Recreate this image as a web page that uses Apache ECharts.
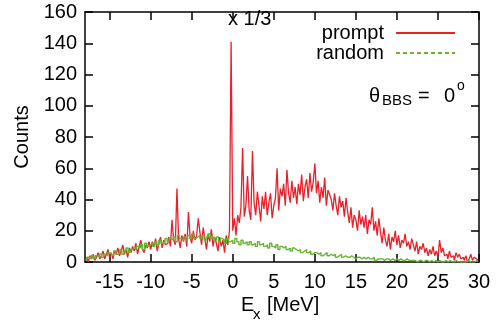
<!DOCTYPE html>
<html><head><meta charset="utf-8">
<script src="https://cdn.jsdelivr.net/npm/echarts@6/dist/echarts.min.js"></script>
<style>html,body{margin:0;padding:0;background:#fff}#c{width:504px;height:323px}</style>
</head><body><div id="c"></div>
<script>
// prompt histogram: bins of 0.2 MeV starting at -18 MeV
const promptStart = -18, promptBin = 0.2;
const promptCounts = [
  1,3,0,4,2,5,1,3,6,2,
  4,7,2,5,8,3,6,2,7,5,
  9,4,7,11,5,8,3,9,6,10,
  7,12,5,10,14,8,6,11,9,13,
  8,13,10,15,7,12,16,9,14,11,
  12,16,10,27,14,11,47,15,9,17,
  13,18,10,32,16,12,20,14,17,28,
  19,11,22,15,8,18,13,21,10,16,
  12,7,16,10,14,6,17,11,20,141,
  20,28,17,30,25,35,73,29,36,55,
  33,27,71,38,30,45,36,26,42,34,
  45,30,38,44,28,36,41,60,33,47,
  42,50,36,59,44,38,52,41,48,37,
  50,43,56,39,48,53,41,57,45,51,
  63,44,52,38,48,41,54,36,46,43,
  40,33,44,36,30,42,35,39,29,41,
  32,25,35,22,30,27,20,33,24,29,
  22,30,18,27,24,35,20,26,17,28,
  19,12,22,14,10,18,8,16,13,20,
  11,17,9,14,12,18,10,13,8,15,
  11,7,13,5,10,8,12,6,9,4,
  8,5,10,4,7,3,14,6,9,4,
  5,2,7,3,4,1,6,3,5,2,
  3,1,4,0,2,5,1,3,2,1
];
// random histogram: bins of 0.25 MeV starting at -18 MeV
const randomStart = -18, randomBin = 0.25;
const randomCounts = [
  1,3,2,4,2,4,3,5,
  3,5,4,6,5,4,7,5,
  6,8,5,7,9,6,8,9,
  8,10,9,11,8,12,10,11,
  12,10,13,11,14,12,13,15,
  13,15,14,16,13,17,15,14,
  16,14,17,15,18,15,16,17,
  15,17,14,16,18,15,16,14,
  16,13,15,14,12,15,13,14,
  12,15,13,11,14,12,13,11,
  13,11,12,10,13,11,12,10,
  11,9,12,10,9,11,8,10,
  9,10,8,9,7,9,8,7,
  8,6,7,8,6,7,5,6,
  6,5,6,4,5,6,4,5,
  4,5,3,4,5,3,4,3,
  3,4,3,2,3,3,2,3,
  2,3,2,2,3,1,2,2,
  2,1,2,2,1,2,1,2,
  1,2,1,1,2,1,1,1,
  1,0,1,1,0,1,1,0,
  1,0,1,0,1,0,0,1,
  0,1,0,0,1,0,0,0,
  0,0,1,0,0,0,1,0
];
const xTickValues = [-15,-10,-5,0,5,10,15,20,25,30];
const xMin = -18, xMax = 30;
const yMin = 0, yMax = 160, yStep = 20;

const promptData = promptCounts.map((v,i)=>[promptStart + (i+0.5)*promptBin, v]);
const randomData = randomCounts.map((v,i)=>[randomStart + (i+0.5)*randomBin, v]);

const FONT = 'Liberation Sans';
const RED = '#ea1f27', GREEN = '#66b530';
const axisLine = {show:true, onZero:false, lineStyle:{color:'#000', width:1.5}};
const tick = {show:true, inside:true, length:8, lineStyle:{color:'#000',width:1.5}};
const chart = echarts.init(document.getElementById('c'), null, {renderer:'canvas'});
chart.setOption({
  animation:false,
  backgroundColor:'#fff',
  textStyle:{fontFamily:FONT},
  grid:{left:85, right:25, top:12, bottom:61, containLabel:false},
  xAxis:[
    {type:'value', min:xMin, max:xMax, position:'bottom', axisLine:axisLine, splitLine:{show:false},
      axisTick:Object.assign({customValues:xTickValues}, tick),
      axisLabel:{color:'#000', fontSize:20, fontFamily:FONT, margin:10, customValues:xTickValues}},
    {type:'value', min:xMin, max:xMax, position:'top', axisLine:axisLine, splitLine:{show:false},
      axisTick:Object.assign({customValues:xTickValues}, tick),
      axisLabel:{show:false}}
  ],
  yAxis:[
    {type:'value', min:yMin, max:yMax, interval:yStep, position:'left', axisLine:axisLine, splitLine:{show:false},
      name:'Counts', nameLocation:'middle', nameRotate:90, nameGap:44,
      nameTextStyle:{color:'#000', fontSize:20, fontFamily:FONT},
      axisTick:tick,
      axisLabel:{color:'#000', fontSize:20, fontFamily:FONT, margin:8}},
    {type:'value', min:yMin, max:yMax, interval:yStep, position:'right', axisLine:axisLine, splitLine:{show:false},
      axisTick:tick, axisLabel:{show:false}}
  ],
  legend:{
    orient:'vertical', right:43, top:18, align:'right',
    itemWidth:59, itemHeight:14, itemGap:0,
    itemStyle:{color:'rgba(0,0,0,0)', borderColor:'rgba(0,0,0,0)', borderWidth:0, opacity:0},
    textStyle:{color:'#000', fontSize:20, fontFamily:FONT, padding:[0,7,0,0]},
    data:[
      {name:'prompt'},
      {name:'random', lineStyle:{type:[4,3]}}
    ]
  },
  series:[
    {name:'prompt', type:'line', step:'middle', data:promptData, showSymbol:false, symbol:'none',
      lineStyle:{color:RED, width:1.3}, itemStyle:{color:RED}, z:2},
    {name:'random', type:'line', step:'middle', data:randomData, showSymbol:false, symbol:'none',
      lineStyle:{color:GREEN, width:1.4}, itemStyle:{color:GREEN}, z:3}
  ],
  graphic:[
    {type:'text', x:228, y:19, style:{text:'x 1/3', fontSize:20, fontFamily:FONT, fill:'#000', verticalAlign:'middle'}},
    {type:'text', x:241, y:305, style:{text:'E', fontSize:20, fontFamily:FONT, fill:'#000', verticalAlign:'middle'}},
    {type:'text', x:253, y:315, style:{text:'x', fontSize:15, fontFamily:FONT, fill:'#000', verticalAlign:'middle'}},
    {type:'text', x:267, y:305, style:{text:'[MeV]', fontSize:20, fontFamily:FONT, fill:'#000', verticalAlign:'middle'}},
    {type:'text', x:369, y:96, style:{text:'θ', fontSize:20, fontFamily:FONT, fill:'#000', verticalAlign:'middle'}},
    {type:'text', x:382, y:101, style:{text:'BBS', fontSize:15, fontFamily:FONT, fill:'#000', verticalAlign:'middle'}},
    {type:'text', x:418, y:96, style:{text:'=', fontSize:20, fontFamily:FONT, fill:'#000', verticalAlign:'middle'}},
    {type:'text', x:444, y:96, style:{text:'0', fontSize:20, fontFamily:FONT, fill:'#000', verticalAlign:'middle'}},
    {type:'text', x:457, y:86, style:{text:'o', fontSize:14, fontFamily:FONT, fill:'#000', verticalAlign:'middle'}}
  ]
});
</script></body></html>
